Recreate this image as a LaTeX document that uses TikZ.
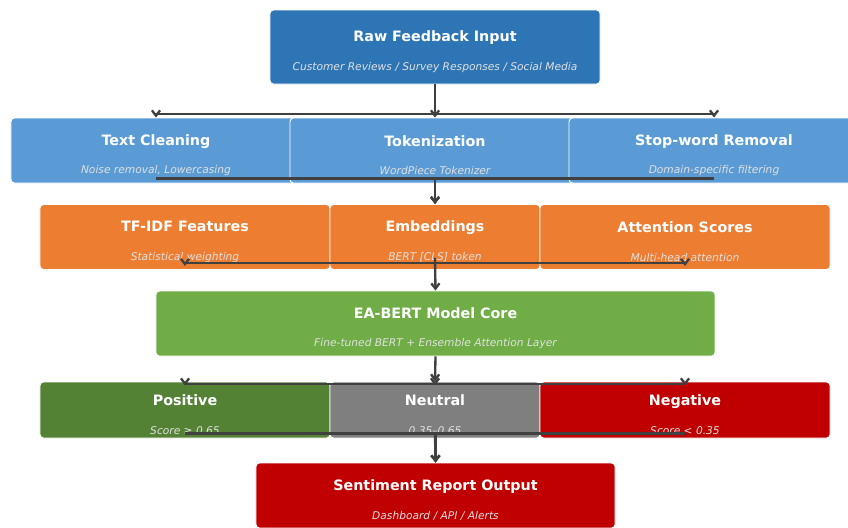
\documentclass[tikz,border=0pt]{standalone}
\usepackage{fontspec}
\setmainfont{DejaVu Sans}
\usepackage{tikz}
\usetikzlibrary{arrows.meta,calc}
\definecolor{rawblue}{HTML}{2E75B6}
\definecolor{prepblue}{HTML}{5B9BD5}
\definecolor{featorange}{HTML}{ED7D31}
\definecolor{coregreen}{HTML}{70AD47}
\definecolor{posgreen}{HTML}{548235}
\definecolor{neugray}{HTML}{7F7F7F}
\definecolor{negred}{HTML}{C00000}
\definecolor{linkgray}{HTML}{404040}
\newcommand{\boxhead}[1]{\rule{0pt}{17pt}#1}
\newcommand{\boxnote}[1]{{\mdseries\itshape\fontsize{9.1}{11}\selectfont\color{white!88!black}#1}}

\begin{document}
\begin{tikzpicture}[
    x=0.03cm, y=-0.03cm,
    box/.style={draw=white, line width=0.8pt, rounded corners=3pt, text=white,
                minimum width=8.7cm, minimum height=1.95cm, align=center, inner sep=1pt,
                font=\bfseries\fontsize{12.2}{14}\selectfont},
    arr/.style={-{Straight Barb[length=4.5pt,width=7pt]}, line width=2pt, draw=linkgray}
]
    \useasboundingbox (0,0) rectangle (848,527);

    % input
    \node[box, fill=rawblue, minimum width=9.9cm, minimum height=2.22cm] (raw) at (435,47)
        {\boxhead{Raw Feedback Input}\\[10.5pt]\boxnote{Customer Reviews / Survey Responses / Social Media}};

    % preprocessing
    \node[box, fill=prepblue] (clean) at (156,150.5)
        {\boxhead{Text Cleaning}\\[10.5pt]\boxnote{Noise removal, Lowercasing}};
    \node[box, fill=prepblue] (token) at (435,150.5)
        {\boxhead{Tokenization}\\[10.5pt]\boxnote{WordPiece Tokenizer}};
    \node[box, fill=prepblue] (stop) at (714,150.5)
        {\boxhead{Stop-word Removal}\\[10.5pt]\boxnote{Domain-specific filtering}};

    % features
    \node[box, fill=featorange] (tfidf) at (185,237)
        {\boxhead{TF-IDF Features}\\[10.5pt]\boxnote{Statistical weighting}};
    \node[box, fill=featorange, minimum width=6.3cm] (embed) at (435,237)
        {\boxhead{Embeddings}\\[10.5pt]\boxnote{BERT [CLS] token}};
    \node[box, fill=featorange] (attn) at (685,237)
        {\boxhead{Attention Scores}\\[10.5pt]\boxnote{Multi-head attention}};

    % model
    \node[box, fill=coregreen, minimum width=16.77cm] (core) at (435.5,323.5)
        {\boxhead{EA-BERT Model Core}\\[10.5pt]\boxnote{Fine-tuned BERT + Ensemble Attention Layer}};

    % classes
    \node[box, fill=posgreen, minimum height=1.68cm] (pos) at (185,410)
        {\boxhead{Positive}\\[10.5pt]\boxnote{Score ≥ 0.65}};
    \node[box, fill=neugray, minimum width=6.3cm, minimum height=1.68cm] (neu) at (435,410)
        {\boxhead{Neutral}\\[10.5pt]\boxnote{0.35–0.65}};
    \node[box, fill=negred, minimum height=1.68cm] (neg) at (685,410)
        {\boxhead{Negative}\\[10.5pt]\boxnote{Score < 0.35}};

    % output
    \node[box, fill=negred, minimum width=10.77cm] (report) at (435.5,495.5)
        {\boxhead{Sentiment Report Output}\\[10.5pt]\boxnote{Dashboard / API / Alerts}};

    \coordinate (fork1) at (435,114);
    \coordinate (fork3) at (435,263);
    \coordinate (fork4) at (435,384);

    \draw[arr] (raw.south) -- (fork1) -| (clean.north);
    \draw[arr] (raw.south) -- (fork1) -| (stop.north);
    \draw[arr] (raw.south) -- (token.north);

    \draw[arr] ($(clean.south)+(0,-5)$) -| (embed.north);
    \draw[arr] ($(stop.south)+(0,-5)$) -| (embed.north);
    \draw[arr] ($(token.south)+(0,-5)$) -- (embed.north);

    \draw[arr] (fork3) -| ($(tfidf.south)+(0,-4)$);
    \draw[arr] (fork3) -| ($(attn.south)+(0,-4)$);
    \draw[arr] ($(embed.south)+(0,-12)$) -- (core.north);

    \draw[arr] (core.south) -- (neu.north);
    \draw[arr] (fork4) -| ($(pos.north)+(0,4)$);
    \draw[arr] (fork4) -| ($(neg.north)+(0,4)$);
    \draw[arr] (fork4) -- ($(neu.north)+(0,4)$);

    \draw[arr] ($(pos.south)+(0,-5)$) -| (report.north);
    \draw[arr] ($(neg.south)+(0,-5)$) -| (report.north);
    \draw[arr] ($(neu.south)+(0,-5)$) -- (report.north);
\end{tikzpicture}
\end{document}
